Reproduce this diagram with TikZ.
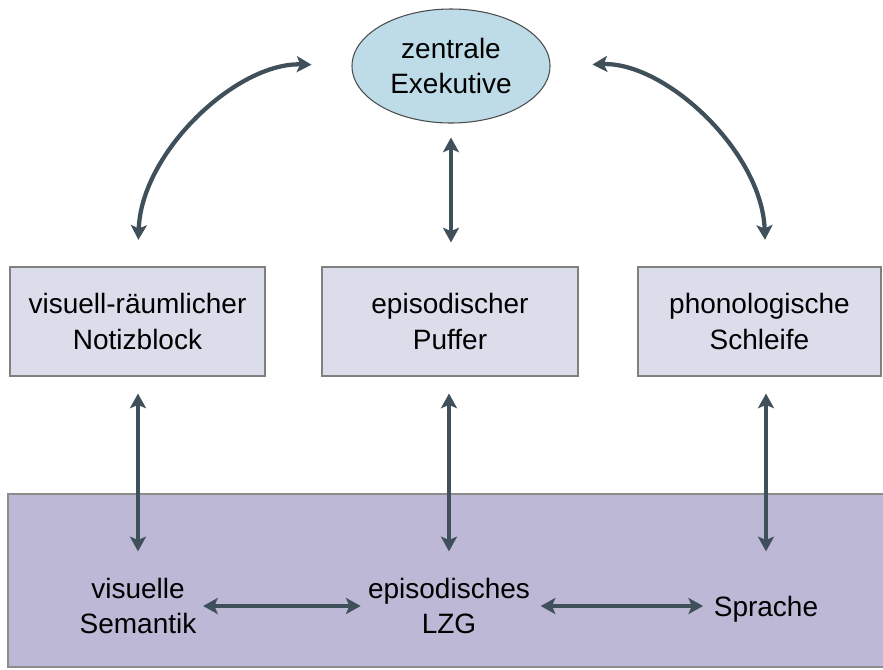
\documentclass[tikz,border=0pt]{standalone}
\usepackage{fontspec}
\setmainfont{Liberation Sans}
\usetikzlibrary{shapes.geometric,arrows.meta,positioning}
\definecolor{exekblue}{HTML}{BEDCE8}
\definecolor{boxgray}{HTML}{DCDDEA}
\definecolor{ltmviolet}{HTML}{BDB8D6}
\definecolor{arrowslate}{HTML}{3F505A}
\tikzset{
  every node/.style={font=\fontsize{21}{26.5}\selectfont,align=center},
  comp/.style={draw=black!50,fill=boxgray,minimum height=81.75pt,inner sep=0pt,line width=0.8pt},
  dbl/.style={<->,>={Stealth[length=11pt,width=12pt,inset=2.5pt]},line width=3.2pt,draw=arrowslate}
}
\begin{document}
\begin{tikzpicture}[x=0.75pt,y=-0.75pt]
\useasboundingbox (0,0) rectangle (883,669);
% Langzeitgedaechtnis
\draw[draw=black!45,fill=ltmviolet,line width=0.8pt] (8,494) rectangle (890,667);
\node[ellipse,draw=black!70,fill=exekblue,minimum width=148.5pt,minimum height=85.5pt,inner sep=0pt,line width=0.8pt] (ZE) at (451,66) {zentrale\\Exekutive};
\foreach \x/\w/\t [count=\n] in {137.5/191.25/{visuell-räumlicher\\Notizblock},
                                  450/192/{episodischer\\Puffer},
                                  759.5/182.25/{phonologische\\Schleife}}
  \node[comp,minimum width=\w pt] (B\n) at (\x,321.5) {\t};
\node (S1) at (138,606) {visuelle\\Semantik};
\node (S2) at (449,606) {episodisches\\LZG};
\node (S3) at (766,609) {Sprache};

\draw[dbl,shorten <=20pt,shorten >=30pt] (B1.north) to [bend left=45] (ZE.west);
\draw[dbl,shorten <=31.5pt,shorten >=20pt] (ZE.east) to [bend left=45] (S3 |- B3.north);
\draw[dbl,shorten <=10.5pt,shorten >=18pt] (ZE.south) -- (ZE.south |- B2.north);
\foreach \n in {1,2,3}
  \draw[dbl,shorten <=12.75pt,shorten >=16.5pt] (S\n |- B\n.south) -- (S\n |- S2.north);
\draw[dbl,shorten <=1.5pt,shorten >=2pt] (S1.east) -- (S2.west);
\draw[dbl,shorten <=4.5pt,shorten >=4.5pt] (S2.east) -- (S2.east -| S3.west);
\end{tikzpicture}
\end{document}
